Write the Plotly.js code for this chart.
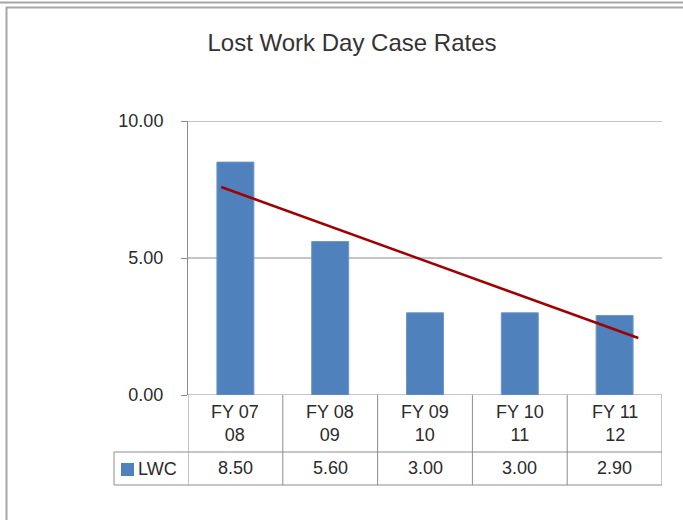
<!DOCTYPE html>
<html>
<head>
<meta charset="utf-8">
<script src="https://cdn.plot.ly/plotly-3.0.1.min.js"></script>
<style>html,body{margin:0;padding:0;background:#fff;}#chart{width:683px;height:520px;}</style>
</head>
<body>
<div id="chart"></div>
<script>
// ---- data ----
const categories = ["FY 07 08", "FY 08 09", "FY 09 10", "FY 10 11", "FY 11 12"];
const categoryLabels = ["FY 07<br>08", "FY 08<br>09", "FY 09<br>10", "FY 10<br>11", "FY 11<br>12"];
const seriesName = "LWC";
const lwcValues = [8.50, 5.60, 3.00, 3.00, 2.90];
const valueLabels = ["8.50", "5.60", "3.00", "3.00", "2.90"];
const trendPeriods = [0.85, 5.25];   // trendline ends, in period units (1 = first category)
const trendValues = [7.59, 2.08];
const chartTitle = "Lost Work Day Case Rates";
const yGridValues = [0, 5, 10];

// ---- layout geometry (pixels) ----
const W = 683, H = 520;
const L = 188, R = 662, T = 121, B = 395;
const fx = px => (px - L) / (R - L);
const fy = py => (B - py) / (B - T);

const gray = "#8c8c8c";
const textColor = "#2b2b2b";
const font = "Liberation Sans, Arial, sans-serif";
const barColor = "#4f81bd";

const rowTop = B, rowMid = 452, rowBot = 485, legLeft = 114;

const shapes = [];
const line = (xref, x0, x1, y0, y1, color, w, yref) => shapes.push({
  type: "line", xref: xref, yref: yref || "paper", x0: x0, x1: x1, y0: y0, y1: y1,
  line: {color: color || gray, width: w || 1}, layer: "below"
});
// horizontal gridlines (including the edges of the plot)
yGridValues.forEach(v => line("paper", 0, 1, v, v, gray, 1, "y"));
// table vertical borders at category boundaries
for (let i = 0; i <= categories.length; i++) {
  line("x2", i + 0.5, i + 0.5, fy(rowTop), fy(rowBot));
}
// horizontal table lines
line("paper", fx(legLeft), 1, fy(rowMid), fy(rowMid));
line("paper", fx(legLeft), 1, fy(rowBot), fy(rowBot));
// legend cell left border
line("paper", fx(legLeft), fx(legLeft), fy(rowMid), fy(rowBot));
// legend key square
shapes.push({type: "rect", xref: "paper", yref: "paper",
  x0: fx(121), x1: fx(134), y0: fy(476), y1: fy(463),
  fillcolor: barColor, line: {width: 0}});
// outer frames
line("paper", fx(0), fx(W), fy(2.5), fy(2.5), "#a6a6a6", 2);
line("paper", fx(6), fx(W), fy(7.5), fy(7.5), "#a6a6a6", 2);
line("paper", fx(6.5), fx(6.5), fy(7), fy(H), "#a6a6a6", 2);

const annotations = [];
categories.forEach((c, i) => {
  annotations.push({xref: "x", yref: "paper", x: c, y: fy(423), text: categoryLabels[i],
    showarrow: false, font: {family: font, size: 18, color: textColor}, xanchor: "center", yanchor: "middle"});
  annotations.push({xref: "x", yref: "paper", x: c, y: fy(468), text: valueLabels[i],
    showarrow: false, font: {family: font, size: 18, color: textColor}, xanchor: "center", yanchor: "middle"});
});
annotations.push({xref: "paper", yref: "paper", x: fx(136), y: fy(469), text: seriesName,
  showarrow: false, font: {family: font, size: 18, color: textColor}, xanchor: "left", yanchor: "middle"});

const traces = [
  {type: "bar", x: categories, y: lwcValues, name: seriesName,
   marker: {color: barColor, line: {color: "#6f95c8", width: 1}}, hoverinfo: "skip"},
  {type: "scatter", mode: "lines", x: trendPeriods, y: trendValues, xaxis: "x2", yaxis: "y",
   line: {color: "#a00000", width: 2.5}, hoverinfo: "skip"}
];

const layout = {
  width: W, height: H,
  margin: {l: L, r: W - R, t: T, b: H - B, pad: 0},
  paper_bgcolor: "#ffffff", plot_bgcolor: "#ffffff",
  showlegend: false,
  bargap: 0.61,
  font: {family: font, color: textColor},
  title: {text: chartTitle, x: 352 / W, xref: "container", xanchor: "center",
          y: 1 - 43 / H, yref: "container", yanchor: "middle",
          font: {family: font, size: 24, color: "#333333"}},
  xaxis: {type: "category", range: [-0.5, 4.5], showticklabels: false, showgrid: false,
          zeroline: false, showline: false, ticks: "", fixedrange: true},
  xaxis2: {type: "linear", overlaying: "x", range: [0.5, 5.5], visible: false, fixedrange: true},
  yaxis: {range: [0, 10], tickvals: yGridValues, tickformat: ".2f", showgrid: false,
          zeroline: false, showline: true, linecolor: gray, linewidth: 1,
          ticks: "outside", ticklen: 6, tickcolor: gray, ticklabelstandoff: 14,
          tickfont: {family: font, size: 18, color: textColor}, fixedrange: true},
  shapes: shapes,
  annotations: annotations
};

Plotly.newPlot("chart", traces, layout, {staticPlot: true, displayModeBar: false});
</script>
</body>
</html>
